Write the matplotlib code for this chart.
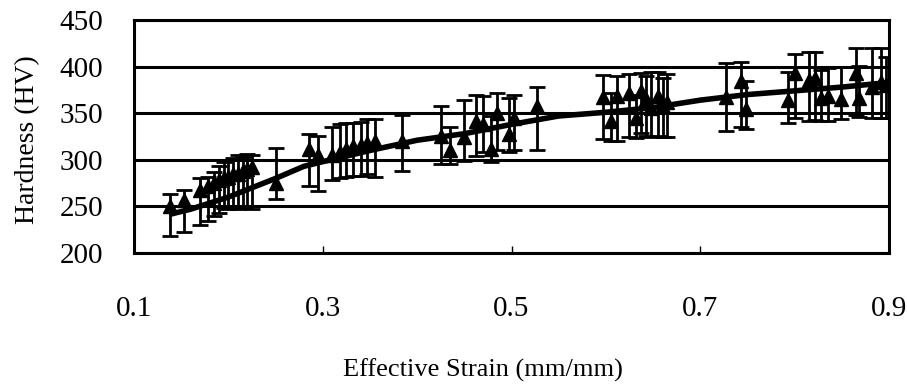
import matplotlib
matplotlib.use("Agg")
import matplotlib.pyplot as plt

plt.rcParams['font.family'] = ['Liberation Serif', 'DejaVu Serif']

strain = [0.138, 0.153,
          0.170, 0.178, 0.185, 0.190, 0.195, 0.200, 0.205, 0.210, 0.215, 0.220, 0.225,
          0.250, 0.285, 0.295,
          0.310, 0.318, 0.325, 0.332, 0.340, 0.347, 0.355,
          0.384, 0.425, 0.435, 0.450, 0.462, 0.470, 0.478, 0.485, 0.497, 0.503, 0.527,
          0.597, 0.605, 0.612, 0.625, 0.632, 0.637, 0.643, 0.648, 0.655, 0.660, 0.665,
          0.727, 0.743, 0.748,
          0.793, 0.800, 0.815, 0.822, 0.828, 0.835, 0.849, 0.865, 0.868, 0.882, 0.892, 0.897]
hardness = [250, 257,
            268, 272, 275, 278, 280, 282, 285, 285, 288, 290, 292,
            275, 312, 305,
            305, 308, 312, 315, 316, 318, 320,
            320, 325, 310, 324, 342, 338, 312, 350, 328, 345, 358,
            367, 342, 368, 372, 345, 374, 365, 356, 368, 358, 362,
            367, 385, 355,
            364, 393, 386, 388, 366, 368, 365, 393, 366, 378, 383, 380]
err_low = [32, 35,
           38, 38, 35, 35, 32, 35, 35, 38, 40, 40, 45,
           17, 40, 38,
           27, 28, 30, 32, 33, 33, 38,
           32, 30, 14, 25, 38, 30, 14, 40, 20, 35, 48,
           45, 22, 48, 48, 22, 45, 40, 32, 43, 34, 38,
           36, 50, 22,
           24, 48, 44, 45, 24, 26, 21, 45, 20, 33, 38, 35]
err_high = [13, 11,
            12, 10, 12, 15, 18, 18, 17, 20, 15, 16, 13,
            38, 16, 20,
            30, 30, 27, 25, 25, 26, 24,
            28, 33, 25, 40, 27, 30, 35, 22, 38, 25, 20,
            24, 30, 22, 20, 25, 19, 25, 38, 26, 30, 30,
            37, 20, 30,
            30, 21, 30, 28, 30, 30, 35, 27, 35, 42, 37, 30]

trend_x = [0.14, 0.16, 0.20, 0.25, 0.28, 0.30, 0.35, 0.40, 0.45, 0.50, 0.55, 0.60,
           0.65, 0.70, 0.75, 0.80, 0.85, 0.90]
trend_y = [242, 247, 260, 280, 293, 298, 310, 321, 328, 338, 347, 351,
           356, 364, 370, 374, 378, 383]

x_ticks = [0.1, 0.3, 0.5, 0.7, 0.9]
x_tick_labels = ['0.1', '0.3', '0.5', '0.7', '0.9']
y_ticks = [200, 250, 300, 350, 400, 450]

fig = plt.figure(figsize=(9.07, 3.85), dpi=100)
ax = fig.add_axes([134/907, 132/385, 755/907, 233/385])

for y in y_ticks:
    ax.axhline(y, color='black', lw=2.2, zorder=1)

ax.errorbar(strain, hardness, yerr=[err_low, err_high], fmt='^', color='black', ms=10,
            ecolor='black', elinewidth=2.0, capsize=5.5, capthick=2.0, zorder=3)
ax.plot(trend_x, trend_y, color='black', lw=4, zorder=4, solid_capstyle='round')

ax.set_xlim(0.1, 0.9)
ax.set_ylim(200, 450)
ax.set_xticks(x_ticks)
ax.set_xticklabels(x_tick_labels)
ax.set_yticks(y_ticks)
ax.tick_params(axis='x', direction='in', length=5, width=1, pad=31, labelsize=21)
ax.tick_params(axis='y', length=0, pad=22, labelsize=21)
for s in ax.spines.values():
    s.set_linewidth(2.2)

fig.text(483/907, 15/385, 'Effective Strain (mm/mm)', fontsize=19, ha='center', va='center')
fig.text(28/907, 245/385, 'Hardness (HV)', fontsize=20, rotation=90, ha='center', va='center')

fig.savefig('out.png', dpi=100)
